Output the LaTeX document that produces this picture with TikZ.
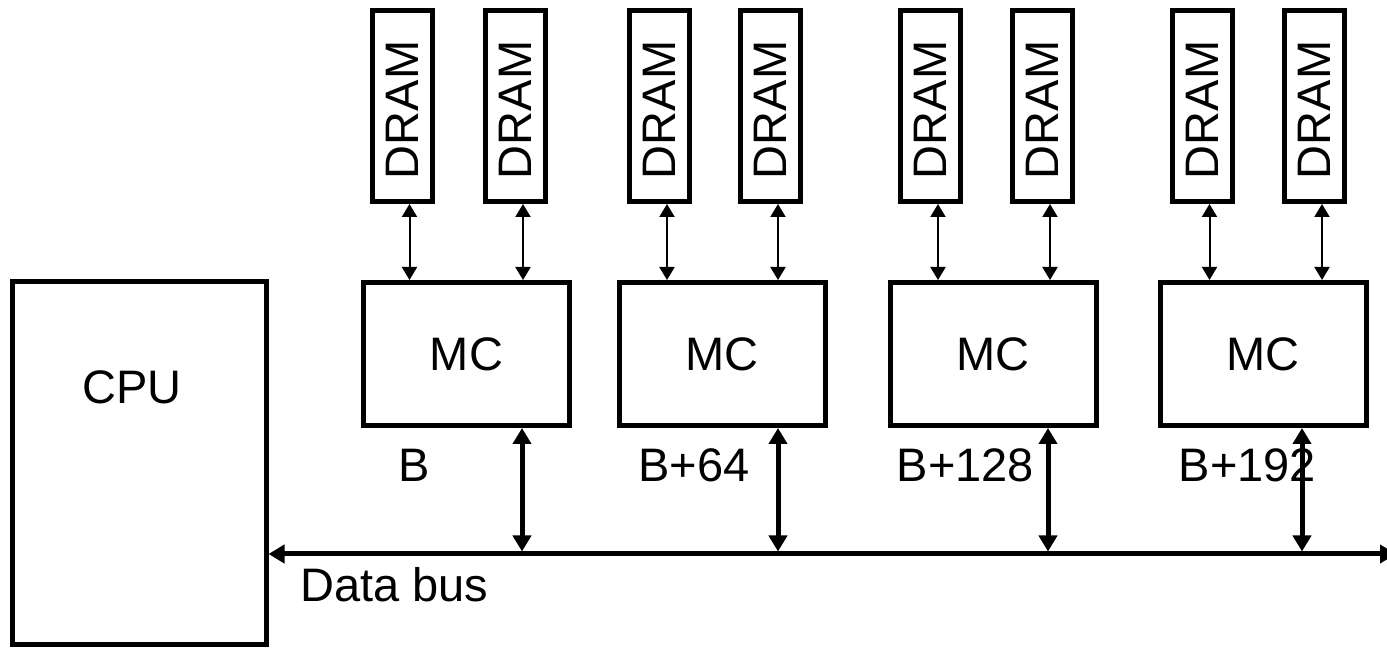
\documentclass[tikz,border=0pt]{standalone}
\usepackage{fontspec}
\setmainfont{Liberation Sans}
\usepackage{tikz}
\usepackage{graphicx}
\usetikzlibrary{positioning, arrows.meta, calc}

\begin{document}
\begin{tikzpicture}[
  x=0.5pt, y=-0.5pt,
  box/.style={draw, line width=2.5pt, inner sep=0pt, font=\fontsize{23.5}{28}\selectfont},
  mc/.style={box, minimum width=103pt, minimum height=71.5pt},
  dram/.style={box, minimum width=30pt, minimum height=95.5pt},
  lbl/.style={inner sep=0pt, anchor=base, font=\fontsize{23.5}{28}\selectfont},
  link/.style={{Triangle[width=7.5pt,length=6.5pt]}-{Triangle[width=7.5pt,length=6.5pt]}, line width=1pt},
  buslink/.style={{Triangle[width=9pt,length=8pt]}-{Triangle[width=9pt,length=8pt]}, line width=2.5pt},
]
  \useasboundingbox (0,0) rectangle (1387,651);

  % processor and bus
  \node[box, minimum width=127pt, minimum height=181.5pt] (cpu) at (139,463.5) {};
  \node[lbl] (cpulbl) at (132,403.5) {CPU};
  \coordinate (busend) at (1396,554);
  \draw[buslink] (busend -| cpu.east) -- (busend);
  \node[lbl, anchor=base west] (buslbl) at (300,602) {Data bus};

  % memory controllers with two DRAMs each
  \foreach \i/\mx/\lx/\bx/\da/\db/\lab in {
      1/466.5/414/522/402/515.5/B,
      2/722/694/778/659.5/770.5/B+64,
      3/993/965.5/1048/930.5/1042.5/B+128,
      4/1263/1247.5/1302/1202/1314.5/B+192} {
    \node[mc] (m\i) at (\mx,354) {MC};
    \node[dram] (d\i a) at (\da,106) {\rotatebox{90}{DRAM\kern4pt}};
    \node[dram] (d\i b) at (\db,106) {\rotatebox{90}{DRAM\kern4pt}};
    \draw[link] ([xshift=3.75pt]d\i a.south) -- ([xshift=3.75pt]d\i a.south |- m\i.north);
    \draw[link] ([xshift=3.75pt]d\i b.south) -- ([xshift=3.75pt]d\i b.south |- m\i.north);
    \node[lbl] (l\i) at (\lx,482) {\lab};
    \coordinate (b\i) at (\bx,554);
    \draw[buslink, shorten >=1.25pt] (m\i.south -| b\i) -- (b\i);
  }
\end{tikzpicture}
\end{document}
